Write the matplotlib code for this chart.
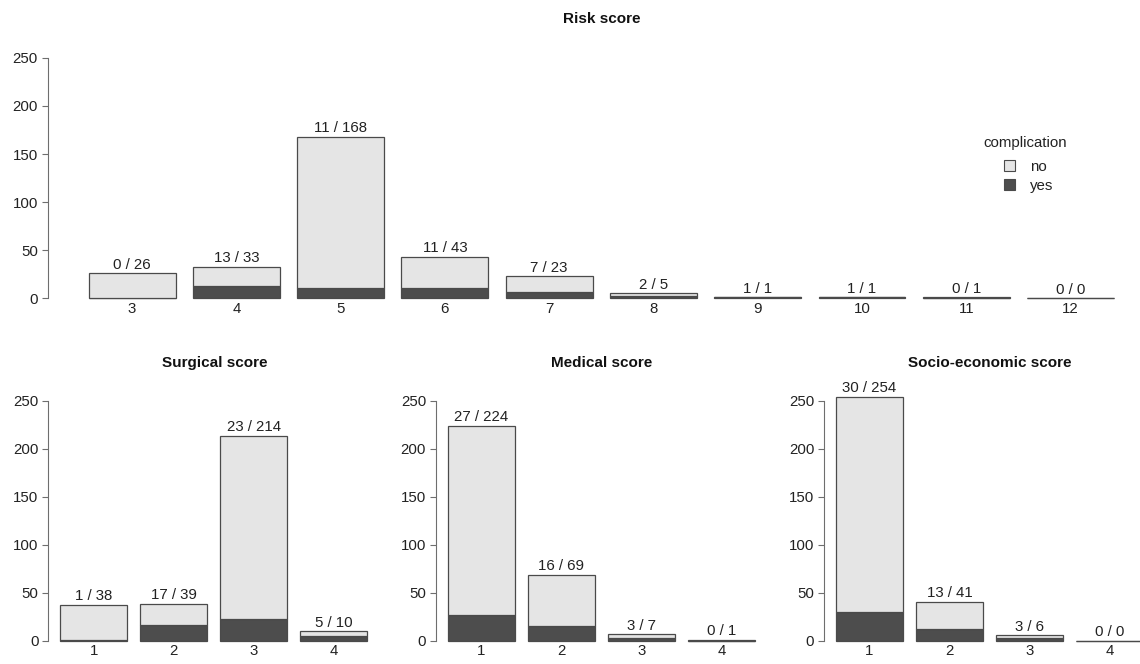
import matplotlib
matplotlib.use('Agg')
import matplotlib.pyplot as plt
from matplotlib.patches import Patch

plt.rcParams['font.family'] = ['Liberation Sans', 'DejaVu Sans']

# counts: yes = with complication, total = all patients
risk_levels = ['3', '4', '5', '6', '7', '8', '9', '10', '11', '12']
risk_yes = [0, 13, 11, 11, 7, 2, 1, 1, 0, 0]
risk_total = [26, 33, 168, 43, 23, 5, 1, 1, 1, 0]

surg_levels = ['1', '2', '3', '4']
surg_yes = [1, 17, 23, 5]
surg_total = [38, 39, 214, 10]

med_levels = ['1', '2', '3', '4']
med_yes = [27, 16, 3, 0]
med_total = [224, 69, 7, 1]

soc_levels = ['1', '2', '3', '4']
soc_yes = [30, 13, 3, 0]
soc_total = [254, 41, 6, 0]

yticks = [0, 50, 100, 150, 200, 250]

W, H = 1140, 664
col_no = '#e5e5e5'
col_yes = '#4d4d4d'
edge = '#4a4a4a'
axcol = '#6e6e6e'
txt = '#222222'
fs = 10.8


def panel(rect, levels, yes, total, xlim):
    ax = fig.add_axes(rect)
    x = [0.7 + 1.2 * i for i in range(len(levels))]
    no = [t - y for t, y in zip(total, yes)]
    ax.bar(x, yes, width=1, color=col_yes, edgecolor=edge, linewidth=0.9, clip_on=False)
    ax.bar(x, no, width=1, bottom=yes, color=col_no, edgecolor=edge, linewidth=0.9, clip_on=False)
    for xi, y, t in zip(x, yes, total):
        ax.annotate('%d / %d' % (y, t), (xi, t), xytext=(0, 1.2), textcoords='offset points',
                    ha='center', va='bottom', fontsize=fs, color=txt)
    ax.set_xlim(*xlim)
    ax.set_ylim(0, 260)
    ax.set_xticks(x)
    ax.set_xticklabels(levels)
    ax.set_yticks(yticks)
    ax.tick_params(axis='x', length=0, pad=2.5, labelsize=fs, labelcolor=txt)
    ax.tick_params(axis='y', length=4.5, width=0.8, color=axcol, pad=2.5, labelsize=fs, labelcolor=txt)
    for s in ['top', 'right', 'bottom']:
        ax.spines[s].set_visible(False)
    ax.spines['left'].set_bounds(0, 250)
    ax.spines['left'].set_color(axcol)
    ax.spines['left'].set_linewidth(0.8)
    return ax


fig = plt.figure(figsize=(W / 100, H / 100), dpi=100)


def rect(left, right, bottom, height):
    return [left / W, 1 - bottom / H, (right - left) / W, height / H]


# top panel (risk score)
top_left = 47.6
top_unit = 86.9
panel(rect(top_left, W, 298.3, 250.1), risk_levels, risk_yes, risk_total,
      (-0.272, -0.272 + (W - top_left) / top_unit))

# bottom panels
bot_unit = 66.7
for left, lv, yv, tv in [(48.1, surg_levels, surg_yes, surg_total),
                         (435.8, med_levels, med_yes, med_total),
                         (823.9, soc_levels, soc_yes, soc_total)]:
    right = min(left + 4.968 * bot_unit, W)
    panel(rect(left, right, 641, 249.6), lv, yv, tv,
          (0.016, 0.016 + (right - left) / bot_unit))

fig.text(601.5 / W, 1 - 19 / H, 'Risk score', ha='center', va='center',
         fontsize=11, fontweight='bold', color='#111111')
for xc, title in [(214.5, 'Surgical score'), (602, 'Medical score'), (990, 'Socio-economic score')]:
    fig.text(xc / W, 1 - 363 / H, title, ha='center', va='center',
             fontsize=11, fontweight='bold', color='#111111')

# legend (title drawn separately to get R-like spacing)
fig.text(1025 / W, 1 - 143 / H, 'complication', ha='center', va='center',
         fontsize=fs, color=txt)
handles = [Patch(facecolor=col_no, edgecolor=edge, linewidth=0.8, label='no'),
           Patch(facecolor=col_yes, edgecolor=edge, linewidth=0.8, label='yes')]
leg = fig.legend(handles=handles, loc='upper left',
                 bbox_to_anchor=(1004 / W, 1 - 160 / H), frameon=False,
                 fontsize=fs, handlelength=0.72, handleheight=0.72,
                 handletextpad=1.0, labelspacing=0.32, borderpad=0, borderaxespad=0)
for t in leg.get_texts():
    t.set_color(txt)

fig.savefig('out.png', dpi=100)
